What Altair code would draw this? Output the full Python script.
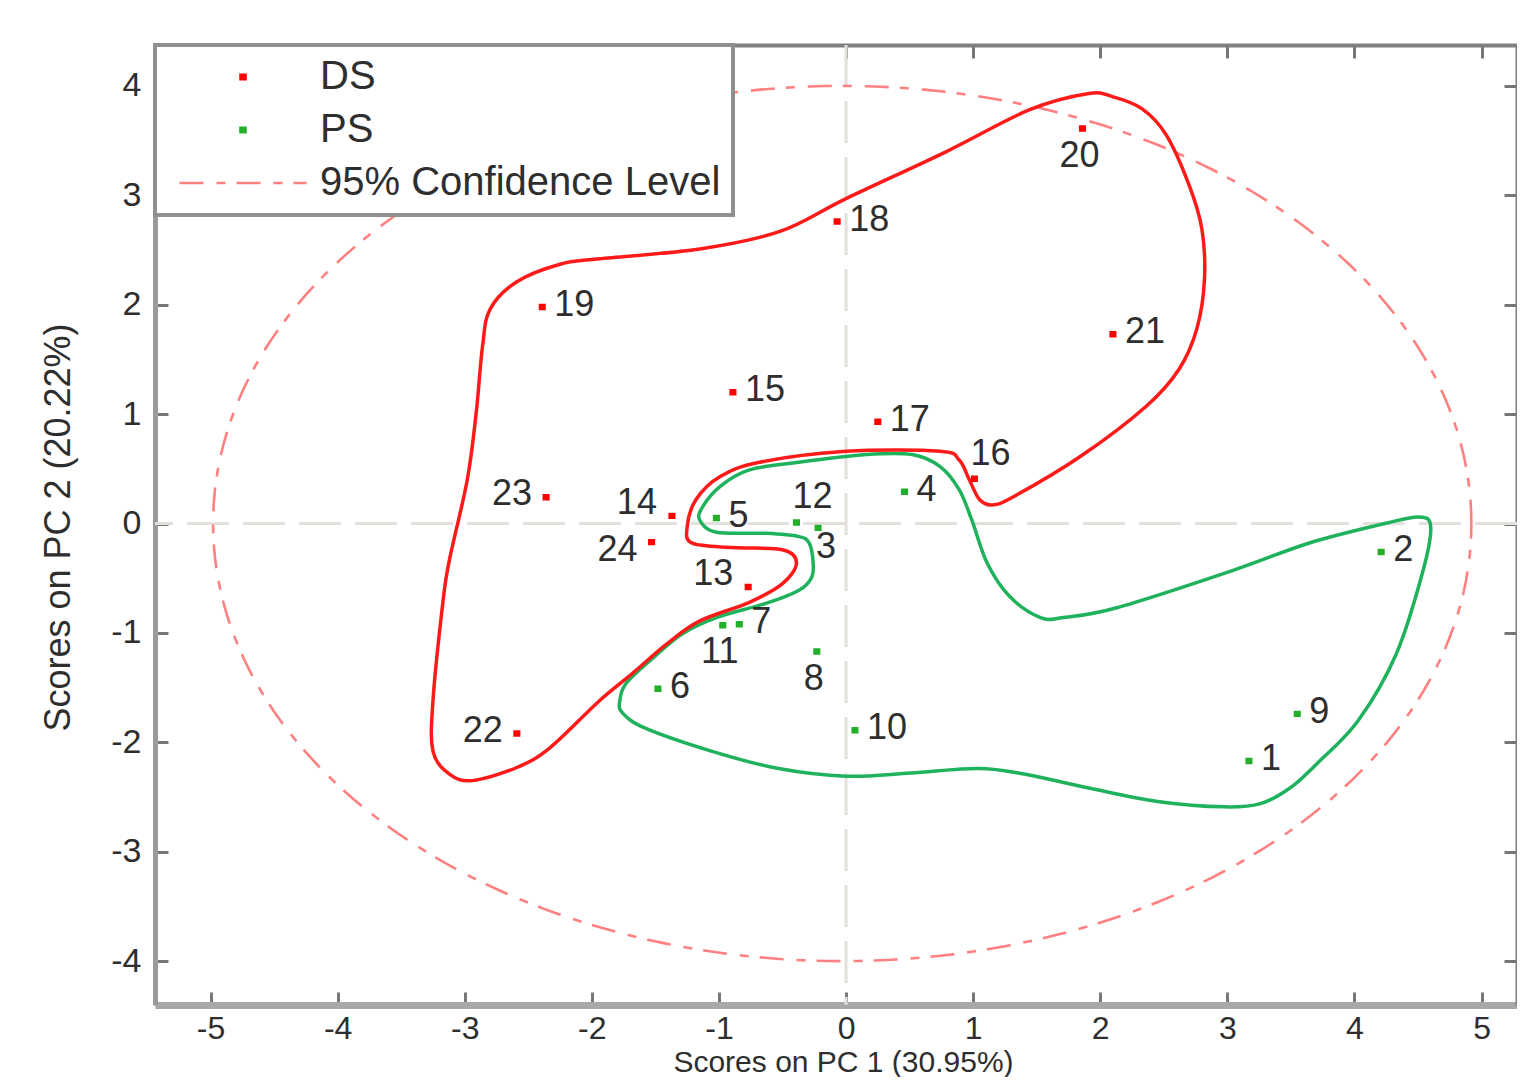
import altair as alt
import numpy as np
import pandas as pd

# ---------------- data ----------------
ds_ids = ["13", "14", "15", "16", "17", "18", "19", "20", "21", "22", "23", "24"]
ds_pc1 = [-0.77, -1.37, -0.89, 1.01, 0.25, -0.07, -2.39, 1.86, 2.10, -2.59, -2.36, -1.53]
ds_pc2 = [-0.58, 0.07, 1.20, 0.41, 0.93, 2.76, 1.98, 3.61, 1.73, -1.92, 0.24, -0.17]
ds_label_side = ["upper-left", "upper-left", "right", "above-right", "right", "right",
                 "right", "below", "right", "left", "left", "lower-left"]

ps_ids = ["1", "2", "3", "4", "5", "6", "7", "8", "9", "10", "11", "12"]
ps_pc1 = [3.17, 4.21, -0.22, 0.46, -1.02, -1.48, -0.84, -0.23, 3.55, 0.07, -0.97, -0.39]
ps_pc2 = [-2.17, -0.26, -0.04, 0.29, 0.05, -1.51, -0.92, -1.17, -1.74, -1.89, -0.93, 0.01]
ps_label_side = ["right", "right", "below-right", "right", "right", "right", "right",
                 "below", "right", "right", "below", "above-right"]

# hand-drawn group outlines (vertices)
ds_outline_pc1 = [1.91, 2.10, 2.33, 2.52, 2.70, 2.80, 2.82, 2.76, 2.62, 2.36, 1.84, 1.31, 1.15,
                  1.05, 0.97, 0.89, 0.74, 0.00, -0.68, -0.99, -1.18, -1.25, -1.21, -0.89, -0.50,
                  -0.39, -0.50, -0.76, -1.15, -1.41, -1.68, -1.94, -2.33, -2.59, -2.94, -3.12,
                  -3.25, -3.25, -3.17, -3.12, -2.98, -2.91, -2.86, -2.80, -2.59, -2.25, -1.94,
                  -1.15, -0.52, 0.00, 0.79, 1.44]
ds_outline_pc2 = [3.93, 3.90, 3.79, 3.55, 3.09, 2.69, 2.23, 1.78, 1.41, 1.07, 0.61, 0.24, 0.17,
                  0.22, 0.40, 0.58, 0.66, 0.66, 0.56, 0.43, 0.22, -0.03, -0.18, -0.22, -0.24,
                  -0.36, -0.55, -0.72, -0.89, -1.10, -1.37, -1.62, -2.05, -2.23, -2.35, -2.29,
                  -2.08, -1.62, -0.70, -0.33, 0.40, 1.01, 1.62, 1.96, 2.21, 2.37, 2.42, 2.51,
                  2.67, 2.97, 3.40, 3.78]
ps_outline_pc1 = [-0.99, -0.76, -0.37, 0.16, 0.52, 0.74, 0.89, 0.99, 1.11, 1.29, 1.53, 1.71, 2.13,
                  3.04, 3.64, 4.24, 4.51, 4.60, 4.54, 4.33, 4.03, 3.70, 3.49, 3.26, 2.98, 2.45,
                  1.92, 1.40, 1.04, 0.51, 0.00, -0.53, -1.06, -1.58, -1.76, -1.78, -1.73, -1.52,
                  -1.29, -1.02, -0.63, -0.37, -0.27, -0.26, -0.29, -0.37, -0.63, -1.02, -1.15,
                  -1.13]
ps_outline_pc2 = [0.34, 0.49, 0.56, 0.63, 0.63, 0.52, 0.31, 0.03, -0.36, -0.67, -0.86, -0.86, -0.77,
                  -0.43, -0.18, 0.00, 0.06, -0.03, -0.43, -1.19, -1.80, -2.20, -2.42, -2.56, -2.59,
                  -2.54, -2.42, -2.29, -2.24, -2.28, -2.31, -2.24, -2.08, -1.87, -1.73, -1.62,
                  -1.46, -1.23, -1.01, -0.86, -0.73, -0.61, -0.49, -0.34, -0.18, -0.12, -0.09,
                  -0.08, 0.03, 0.15]

# 95% confidence ellipse: centre and semi-axes (PC1, PC2)
conf_center = [-0.03, 0.0]
conf_semi_axes = [4.95, 4.0]

groups = ["DS", "PS", "95% Confidence Level"]
group_colors = ["#ff0000", "#22b02a", "#ff8080"]

x_ticks = [-5, -4, -3, -2, -1, 0, 1, 2, 3, 4, 5]
y_ticks = [-4, -3, -2, -1, 0, 1, 2, 3, 4]
x_domain = [-5.437, 5.279]
y_domain = [-4.401, 4.374]

# ---------------- tables ----------------
points = pd.DataFrame({
    "id": ds_ids + ps_ids,
    "pc1": ds_pc1 + ps_pc1,
    "pc2": ds_pc2 + ps_pc2,
    "group": ["DS"] * len(ds_ids) + ["PS"] * len(ps_ids),
    "side": ds_label_side + ps_label_side,
})
ds_outline = pd.DataFrame({"pc1": ds_outline_pc1, "pc2": ds_outline_pc2,
                           "i": range(len(ds_outline_pc1))})
ps_outline = pd.DataFrame({"pc1": ps_outline_pc1, "pc2": ps_outline_pc2,
                           "i": range(len(ps_outline_pc1))})
t = np.linspace(0, 2 * np.pi, 241)
ellipse = pd.DataFrame({
    "pc1": conf_center[0] + conf_semi_axes[0] * np.cos(t),
    "pc2": conf_center[1] + conf_semi_axes[1] * np.sin(t),
    "i": range(len(t)),
})
zero = pd.DataFrame({"v": [0]})

# ---------------- style ----------------
FONT = "Liberation Sans"
TXT = "#2e2e2e"
INWARD = {"expr": "-13"}
CL_DASH = [24, 13, 9, 11]
SYM_SIZE = 16129  # legend line length 127 px; squares are drawn as a small path inside it
SMALL_SQUARE = "M-0.04,-0.035H0.04V0.035H-0.04Z"

x_scale = alt.Scale(domain=x_domain, nice=False, zero=False)
y_scale = alt.Scale(domain=y_domain, nice=False, zero=False)

axis_bottom = alt.Axis(
    orient="bottom", values=x_ticks, labelExpr="'' + datum.value", grid=False,
    title="Scores on PC 1 (30.95%)", titleFont=FONT, titleFontSize=30, titleFontWeight="normal",
    titleColor=TXT, titleX=688, titleY=72, titleBaseline="bottom", titleAlign="center",
    labelFont=FONT, labelFontSize=32, labelColor=TXT, labelPadding=21, labelFlush=False,
    labelOverlap=False, tickSize=INWARD, tickColor="#777777", tickWidth=3,
    domainColor="#a8a8a8", domainWidth=7,
)
axis_left = alt.Axis(
    orient="left", values=y_ticks, labelExpr="'' + datum.value", grid=False,
    title="Scores on PC 2 (20.22%)", titleFont=FONT, titleFontSize=36, titleFontWeight="normal",
    titleColor=TXT, titleAngle=270, titleX=-97, titleY=482, titleBaseline="middle",
    titleAlign="center",
    labelFont=FONT, labelFontSize=34, labelColor=TXT, labelPadding=27, labelFlush=False,
    labelOverlap=False, tickSize=INWARD, tickColor="#777777", tickWidth=3,
    domainColor="#9a9a9a", domainWidth=5,
)
axis_top = alt.Axis(orient="top", values=x_ticks, labels=False, title="", grid=False,
                    tickSize=INWARD, tickColor="#777777", tickWidth=3,
                    domainColor="#808080", domainWidth=4)
axis_right = alt.Axis(orient="right", values=y_ticks, labels=False, title="", grid=False,
                      tickSize=INWARD, tickColor="#777777", tickWidth=3,
                      domainColor="#808080", domainWidth=4)

legend = alt.Legend(
    title=None, orient="none", legendX=0, legendY=0, direction="vertical",
    padding=12, fillColor="white", strokeColor="#8f8f8f", cornerRadius=0,
    labelFont=FONT, labelFontSize=40, labelColor=TXT, labelOffset=12, labelLimit=0,
    symbolOffset=11, symbolSize=SYM_SIZE, symbolStrokeWidth=2.5, symbolDash=CL_DASH,
    clipHeight=40, rowPadding=13,
)
symbol_shapes = [SMALL_SQUARE, SMALL_SQUARE, "stroke"]

# ---------------- layers ----------------
zero_h = alt.Chart(zero).mark_rule(color="#e3e0db", strokeWidth=3, strokeDash=[42, 14]).encode(
    y=alt.Y("v:Q", scale=y_scale, axis=None))
zero_v = alt.Chart(zero).mark_rule(color="#e3e0db", strokeWidth=3, strokeDash=[42, 14]).encode(
    x=alt.X("v:Q", scale=x_scale, axis=None))

ell = alt.Chart(ellipse).mark_line(color="#ff8080", strokeWidth=2.6,
                                   strokeDash=CL_DASH).encode(
    x=alt.X("pc1:Q", scale=x_scale, axis=axis_top),
    y=alt.Y("pc2:Q", scale=y_scale, axis=axis_right),
    order=alt.Order("i:Q"),
)

green_line = alt.Chart(ps_outline).mark_line(color="#1fb25c", strokeWidth=3.5,
                                             interpolate="cardinal-closed").encode(
    x=alt.X("pc1:Q", scale=x_scale, axis=None),
    y=alt.Y("pc2:Q", scale=y_scale, axis=None),
    order=alt.Order("i:Q"),
)
red_line = alt.Chart(ds_outline).mark_line(color="#ff1a1a", strokeWidth=3.5,
                                           interpolate="cardinal-closed").encode(
    x=alt.X("pc1:Q", scale=x_scale, axis=None),
    y=alt.Y("pc2:Q", scale=y_scale, axis=None),
    order=alt.Order("i:Q"),
)

pts = alt.Chart(points).mark_point(filled=True, opacity=1, strokeWidth=2, size=SYM_SIZE).encode(
    x=alt.X("pc1:Q", scale=x_scale, axis=axis_bottom),
    y=alt.Y("pc2:Q", scale=y_scale, axis=axis_left),
    fill=alt.Fill("group:N", scale=alt.Scale(domain=groups, range=group_colors), legend=legend),
    stroke=alt.Stroke("group:N", scale=alt.Scale(domain=groups, range=group_colors),
                      legend=legend),
    shape=alt.Shape("group:N", scale=alt.Scale(domain=groups, range=symbol_shapes),
                    legend=legend),
)

label_styles = {
    "right": dict(dx=12, dy=-2, align="left"),
    "left": dict(dx=-14, dy=-3, align="right"),
    "upper-left": dict(dx=-15, dy=-13, align="right"),
    "lower-left": dict(dx=-14, dy=8, align="right"),
    "below": dict(dx=-3, dy=27, align="center"),
    "above-right": dict(dx=16, dy=-25, align="center"),
    "below-right": dict(dx=8, dy=19, align="center"),
}
label_layers = []
for side, st in label_styles.items():
    label_layers.append(
        alt.Chart(points).transform_filter(alt.datum.side == side).mark_text(
            font=FONT, fontSize=36, color=TXT, baseline="middle", **st
        ).encode(
            x=alt.X("pc1:Q", scale=x_scale, axis=None),
            y=alt.Y("pc2:Q", scale=y_scale, axis=None),
            text="id:N",
        )
    )

chart = alt.layer(zero_h, zero_v, ell, green_line, red_line, pts, *label_layers).resolve_axis(
    x="independent", y="independent"
).properties(
    width=1362, height=960,
    autosize=alt.AutoSizeParams(type="none"),
    padding={"left": 147, "top": 37, "right": 0, "bottom": 72},
    background="white",
).configure_view(stroke=None).configure_legend(strokeWidth=4)

chart.save("out.html", embed_options={"renderer": "svg", "actions": False})
